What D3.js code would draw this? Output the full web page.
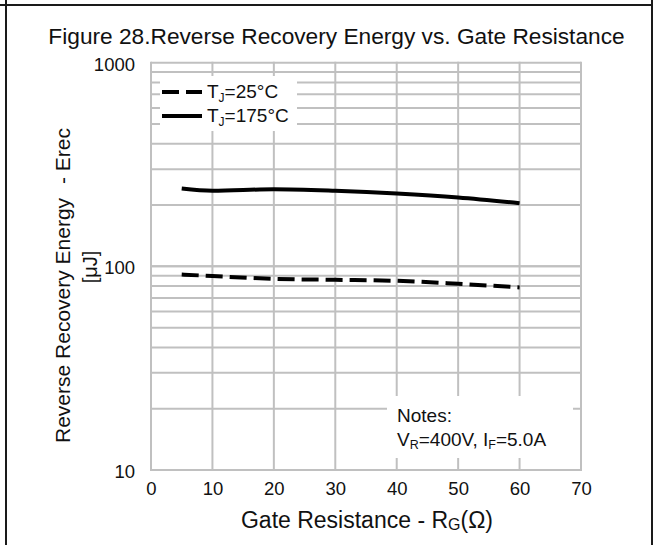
<!DOCTYPE html>
<html><head><meta charset="utf-8">
<script src="https://cdn.jsdelivr.net/npm/d3@7"></script>
<style>body{margin:0;background:#fff}svg{display:block}text{font-family:"Liberation Sans",Arial,sans-serif;fill:#111}</style>
</head><body>
<script>
const xTicks = [0,10,20,30,40,50,60,70];
const yTicks = [10,100,1000];
const gateR = [5,10,20,30,40,50,60];
const erec25 = [91.2,89.6,86.8,85.9,84.9,82.1,78.8];
const erec175 = [241,235,239,235,228,218,204];
const seriesNames = ["T_J=25°C","T_J=175°C"];

const W=656,H=545;
const svg=d3.select("body").append("svg").attr("width",W).attr("height",H);
const x=d3.scaleLinear().domain([0,70]).range([151,581]);
const y=d3.scaleLog().domain([10,1000]).range([470,62.7]);

const yGrid=[];
[10,100].forEach(d=>{for(let k=1;k<=10;k++)yGrid.push(d*k);});
const gridC="#c0c0c0";
const g=svg.append("g");
g.selectAll(".hg").data(yGrid).join("line")
 .attr("x1",x(0)).attr("x2",x(70)).attr("y1",d=>y(d)).attr("y2",d=>y(d))
 .attr("stroke",gridC).attr("stroke-width",2);
g.selectAll(".vg").data(xTicks).join("line")
 .attr("x1",d=>x(d)).attr("x2",d=>x(d)).attr("y1",y(10)+1).attr("y2",y(1000)-1)
 .attr("stroke",gridC).attr("stroke-width",2);

const xAxis=svg.append("g").attr("transform",`translate(0,${y(10)})`)
 .call(d3.axisBottom(x).tickValues(xTicks).tickSize(0).tickPadding(12).tickFormat(d3.format("d")));
xAxis.select(".domain").remove();
xAxis.selectAll("text").attr("font-size",18.5).attr("font-family","Liberation Sans, Arial").attr("fill","#111");
const yAxis=svg.append("g").attr("transform",`translate(${x(0)},0)`)
 .call(d3.axisLeft(y).tickValues(yTicks).tickSize(0).tickPadding(16).tickFormat(d3.format("d")));
yAxis.select(".domain").remove();
yAxis.selectAll("text").attr("font-size",18.5).attr("font-family","Liberation Sans, Arial").attr("fill","#111").attr("dy","0.4em");

const line=d3.line().x((d,i)=>x(gateR[i])).y(d=>y(d)).curve(d3.curveMonotoneX);
svg.append("path").datum(erec175).attr("d",line).attr("fill","none").attr("stroke","#000").attr("stroke-width",4);
svg.append("path").datum(erec25).attr("d",line).attr("fill","none").attr("stroke","#000").attr("stroke-width",4).attr("stroke-dasharray","17,7");

svg.append("rect").attr("x",160).attr("y",76).attr("width",137).attr("height",55).attr("fill","#fff");
const leg=[{y:92,dash:"17,7"},{y:116,dash:null}];
leg.forEach((l,i)=>{
  svg.append("line").attr("x1",162).attr("x2",202).attr("y1",l.y).attr("y2",l.y)
   .attr("stroke","#000").attr("stroke-width",4).attr("stroke-dasharray",l.dash);
  const t=svg.append("text").attr("x",207).attr("y",l.y+6).attr("font-size",19);
  const parts=seriesNames[i].split("_");
  t.append("tspan").text(parts[0]);
  t.append("tspan").attr("font-size",12).attr("dy",4).text(parts[1].slice(0,1));
  t.append("tspan").attr("dy",-4).text(parts[1].slice(1));
});

svg.append("rect").attr("x",387).attr("y",396).attr("width",186).attr("height",62).attr("fill","#fff");
svg.append("text").attr("x",397).attr("y",422).attr("font-size",19).text("Notes:");
const nt=svg.append("text").attr("x",397).attr("y",446).attr("font-size",19);
nt.append("tspan").text("V");
nt.append("tspan").attr("font-size",12.5).attr("dy",3).text("R");
nt.append("tspan").attr("dy",-3).text("=400V, I");
nt.append("tspan").attr("font-size",12.5).attr("dy",3).text("F");
nt.append("tspan").attr("dy",-3).text("=5.0A");

svg.append("text").attr("x",336.5).attr("y",44).attr("text-anchor","middle").attr("font-size",22.7)
 .text("Figure 28.Reverse Recovery Energy vs. Gate Resistance");

const xt=svg.append("text").attr("x",367).attr("y",528).attr("text-anchor","middle").attr("font-size",23);
xt.append("tspan").text("Gate Resistance - R");
xt.append("tspan").attr("font-size",16).attr("dy",2).text("G");
xt.append("tspan").attr("dy",-2).text("(Ω)");

const yt=svg.append("g").attr("transform","translate(70,0) rotate(-90)");
yt.append("text").attr("x",-443).attr("text-anchor","start").attr("font-size",21)
 .text("Reverse Recovery Energy");
yt.append("text").attr("x",-128).attr("text-anchor","end").attr("font-size",21)
 .text("- Erec");
yt.append("text").attr("y",27).attr("x",-267).attr("text-anchor","middle").attr("font-size",20).text("[μJ]");

svg.append("line").attr("x1",0).attr("x2",653).attr("y1",5).attr("y2",5).attr("stroke","#1a1a1a").attr("stroke-width",2);
svg.append("line").attr("x1",6).attr("x2",6).attr("y1",0).attr("y2",545).attr("stroke","#1a1a1a").attr("stroke-width",2);
svg.append("line").attr("x1",652).attr("x2",652).attr("y1",0).attr("y2",545).attr("stroke","#1a1a1a").attr("stroke-width",2);
</script>
</body></html>
